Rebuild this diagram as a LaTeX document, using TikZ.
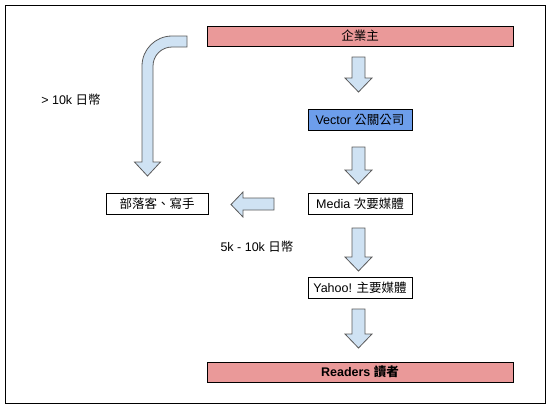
\documentclass[tikz,border=0pt]{standalone}
\usepackage{fontspec}
\setmainfont{Liberation Sans}
\newfontfamily\cjk{Noto Sans CJK TC}
\definecolor{owner}{RGB}{234,153,153}
\definecolor{agency}{RGB}{109,158,235}
\definecolor{flow}{RGB}{207,226,243}
\definecolor{rim}{RGB}{90,90,90}

\tikzset{
  box/.style={draw, line width=0.9pt, inner sep=0pt, minimum height=21,
    font=\fontsize{12.5}{14}\selectfont},
  wide/.style={box, minimum width=306, minimum height=20, fill=owner},
  narrow/.style={box, minimum width=104},
  flowarrow/.style={fill=flow, draw=rim, line width=0.8pt, line join=miter},
  note/.style={font=\fontsize{12.5}{14}\selectfont, inner sep=0pt},
}

% down arrow: centre x, top y, tip y
\newcommand\blockdown[3]{%
\draw[flowarrow] ({#1-6.5},#2) -- ({#1+6.5},#2) -- ({#1+6.5},{#3-14})
  -- ({#1+13.5},{#3-14}) -- (#1,#3) -- ({#1-13.5},{#3-14})
  -- ({#1-6.5},{#3-14}) -- cycle;}

\begin{document}
\begin{tikzpicture}[x=1pt, y=-1pt]
\useasboundingbox (0,0) rectangle (554,407);
\draw[line width=1pt] (5,5) rectangle (545,403);

\node[wide] (owner) at (360,36) {{\cjk 企業主}};
\node[narrow, fill=agency] (vector) at (360,119.5) {Vector {\cjk 公關公司}};
\node[narrow] (media) at (360,203.5) {Media {\cjk 次要媒體}};
\node[box, minimum width=102] (blogger) at (157,203.5) {{\cjk 部落客、寫手}};
\node[narrow] (yahoo) at (360,287.5) {Yahoo! {\cjk 主要媒體}};
\node[wide, font=\fontsize{12.5}{14}\selectfont\bfseries] (readers) at (360,372) {Readers {\cjk 讀者}};

\node[note] (high) at (71,100) {> 10k {\cjk 日幣}};
\node[note] (low) at (257,247) {5k - 10k {\cjk 日幣}};

\blockdown{358.5}{57}{92}
\blockdown{358.5}{147}{184}
\blockdown{358.5}{228}{271}
\blockdown{358.5}{309}{348}

% left arrow to the bloggers
\draw[flowarrow] (274,198) -- (274,210) -- (243,210) -- (243,217) -- (231,204.5)
  -- (243,192) -- (243,198) -- cycle;

% bent arrow from the owner
\draw[flowarrow] (187,36) -- (172,36) arc[start angle=270, end angle=180, radius=30]
  -- (142,162) -- (134.5,162) -- (147.5,176) -- (160.5,162) -- (153,162)
  -- (153,66) arc[start angle=180, end angle=270, radius=19] -- (187,47) -- cycle;
\end{tikzpicture}
\end{document}
